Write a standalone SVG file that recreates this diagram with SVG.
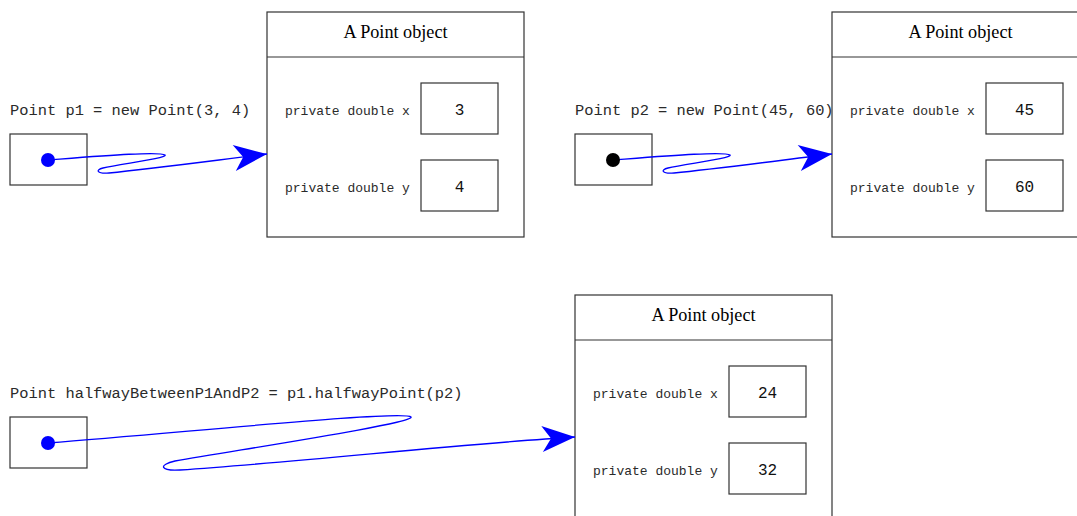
<svg xmlns="http://www.w3.org/2000/svg" width="1077" height="516" viewBox="0 0 1077 516">
  <style>
    .box { fill: #ffffff; stroke: #333333; stroke-width: 1.2; }
    .sep { stroke: #333333; stroke-width: 1.2; }
    .title { font-family: "Liberation Serif", "Times New Roman", serif; font-size: 18.2px; fill: #000000; text-anchor: middle; }
    .code { font-family: "Liberation Mono", "Courier New", monospace; font-size: 15.4px; fill: #2a2a2a; }
    .field { font-family: "Liberation Mono", "Courier New", monospace; font-size: 13px; fill: #2a2a2a; }
    .val { font-family: "Liberation Mono", "Courier New", monospace; font-size: 16px; fill: #111111; text-anchor: middle; }
    .ref { fill: none; stroke: #0000ff; stroke-width: 1.3; marker-end: url(#head); }
  </style>
  <defs>
    <marker id="head" markerUnits="userSpaceOnUse" viewBox="-34 -14 36 28" refX="0" refY="0" markerWidth="36" markerHeight="28" orient="auto">
      <path d="M0,0 L-33,-13 L-24,0 L-33,13 Z" fill="#0000ff"/>
    </marker>
    <g id="pointObj">
      <rect class="box" x="0" y="0" width="257" height="225"/>
      <line class="sep" x1="0" y1="45" x2="257" y2="45"/>
      <text class="title" x="128.5" y="26">A Point object</text>
      <text class="field" x="18" y="103">private double x</text>
      <text class="field" x="18" y="180">private double y</text>
      <rect class="box" x="154" y="71" width="77" height="51"/>
      <rect class="box" x="154" y="148" width="77" height="51"/>
    </g>
  </defs>

  <g id="obj1">
    <use href="#pointObj" x="267" y="12"/>
    <text class="val" x="459.5" y="115">3</text>
    <text class="val" x="459.5" y="192">4</text>
  </g>

  <g id="obj2">
    <use href="#pointObj" x="832" y="12"/>
    <text class="val" x="1024.5" y="115">45</text>
    <text class="val" x="1024.5" y="192">60</text>
  </g>

  <g id="obj3">
    <rect class="box" x="575" y="295" width="257" height="240"/>
    <line class="sep" x1="575" y1="340" x2="832" y2="340"/>
    <text class="title" x="703.5" y="321">A Point object</text>
    <text class="field" x="593" y="398">private double x</text>
    <text class="field" x="593" y="475">private double y</text>
    <rect class="box" x="729" y="366" width="77" height="51"/>
    <rect class="box" x="729" y="443" width="77" height="51"/>
    <text class="val" x="767.5" y="398">24</text>
    <text class="val" x="767.5" y="475">32</text>
  </g>

  <g id="var1">
    <text class="code" x="10" y="115">Point p1 = new Point(3, 4)</text>
    <rect class="box" x="10" y="134" width="77" height="51"/>
  </g>

  <g id="var2">
    <text class="code" x="575" y="115">Point p2 = new Point(45, 60)</text>
    <rect class="box" x="575" y="134" width="77" height="51"/>
  </g>

  <g id="var3">
    <text class="code" x="10" y="398">Point halfwayBetweenP1AndP2 = p1.halfwayPoint(p2)</text>
    <rect class="box" x="10" y="417" width="77" height="51"/>
  </g>

  <g id="connectors">
    <path class="ref" d="M48,160 C100,156 160,151 165,155 C168,158 120,164 103,168 C95,170 97,174 109,173 C150,169 210,161 267,154"/>
    <circle cx="48" cy="160" r="7" fill="#0000ff"/>
    <path class="ref" d="M613,160 C665,156 725,151 730,155 C733,158 685,164 668,168 C660,170 662,174 674,173 C715,169 775,161 832,154"/>
    <circle cx="613" cy="160" r="7" fill="#000000"/>
    <path class="ref" d="M48,443 C200,431 405,410 411,417 C415,423 250,448 175,461 C158,465 160,471 180,470 C300,462 460,444 575,437"/>
    <circle cx="48" cy="443" r="7" fill="#0000ff"/>
  </g>
</svg>
